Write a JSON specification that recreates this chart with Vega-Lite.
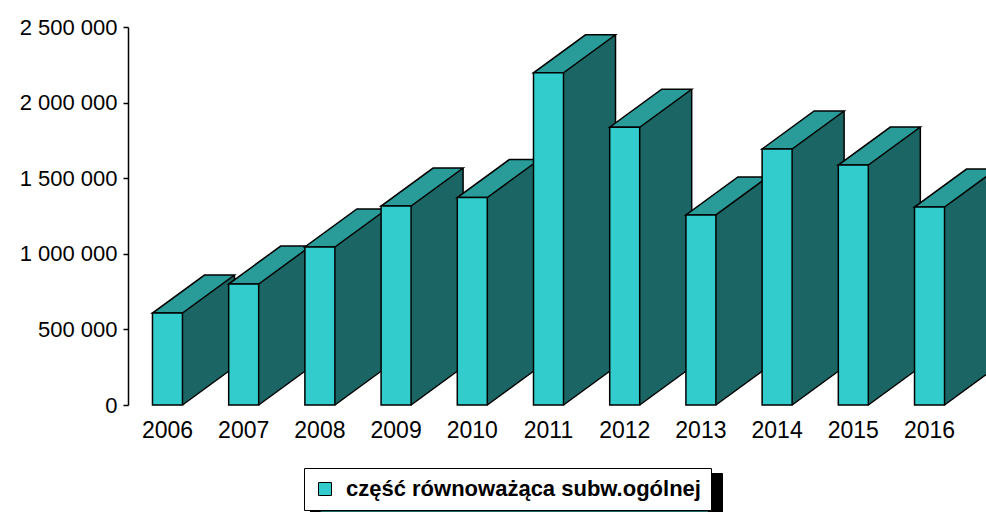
{
  "$schema": "https://vega.github.io/schema/vega-lite/v6.json",
  "width": 841,
  "height": 378,
  "autosize": "none",
  "padding": {"left": 128, "top": 27, "right": 17, "bottom": 107},
  "background": "white",
  "data": {
    "values": [
      {"year": "2006", "value": 608000, "series": "część równoważąca subw.ogólnej", "s2": "część równoważąca subw.ogólnej"},
      {"year": "2007", "value": 800000, "series": "część równoważąca subw.ogólnej", "s2": "część równoważąca subw.ogólnej"},
      {"year": "2008", "value": 1045000, "series": "część równoważąca subw.ogólnej", "s2": "część równoważąca subw.ogólnej"},
      {"year": "2009", "value": 1316000, "series": "część równoważąca subw.ogólnej", "s2": "część równoważąca subw.ogólnej"},
      {"year": "2010", "value": 1372000, "series": "część równoważąca subw.ogólnej", "s2": "część równoważąca subw.ogólnej"},
      {"year": "2011", "value": 2197000, "series": "część równoważąca subw.ogólnej", "s2": "część równoważąca subw.ogólnej"},
      {"year": "2012", "value": 1837000, "series": "część równoważąca subw.ogólnej", "s2": "część równoważąca subw.ogólnej"},
      {"year": "2013", "value": 1257000, "series": "część równoważąca subw.ogólnej", "s2": "część równoważąca subw.ogólnej"},
      {"year": "2014", "value": 1693000, "series": "część równoważąca subw.ogólnej", "s2": "część równoważąca subw.ogólnej"},
      {"year": "2015", "value": 1587000, "series": "część równoważąca subw.ogólnej", "s2": "część równoważąca subw.ogólnej"},
      {"year": "2016", "value": 1309000, "series": "część równoważąca subw.ogólnej", "s2": "część równoważąca subw.ogólnej"}
    ]
  },
  "encoding": {
    "x": {
      "field": "year",
      "type": "ordinal",
      "scale": {"paddingInner": 0, "paddingOuter": 0.018},
      "axis": {
        "title": null,
        "domain": false,
        "ticks": false,
        "labelAngle": 0,
        "labelFont": "Liberation Sans",
        "labelFontSize": 23,
        "labelColor": "black",
        "labelPadding": 14
      }
    },
    "y": {
      "field": "value",
      "type": "quantitative",
      "scale": {"domain": [0, 2500000], "nice": false},
      "axis": {
        "title": null,
        "values": [0, 500000, 1000000, 1500000, 2000000, 2500000],
        "labelExpr": "replace(format(datum.value, ','), regexp(',', 'g'), ' ')",
        "labelFont": "Liberation Sans",
        "labelFontSize": 22,
        "labelColor": "black",
        "labelPadding": 6,
        "domainColor": "black",
        "domainWidth": 1.5,
        "tickColor": "black",
        "tickWidth": 1.5,
        "tickSize": 5,
        "grid": false
      }
    }
  },
  "layer": [
    {
      "mark": {"type": "bar", "width": 52, "xOffset": 41, "y2Offset": -38, "fill": "#1b6665", "stroke": null},
      "encoding": {
        "y2": {"datum": 0},
        "opacity": {
          "field": "s2",
          "type": "nominal",
          "scale": {"range": [1, 1]},
          "legend": {
            "title": null,
            "orient": "none",
            "legendX": 182,
            "legendY": 446,
            "fillColor": "black",
            "strokeColor": "black",
            "padding": 10,
            "symbolType": "square",
            "symbolSize": 150000,
            "symbolFillColor": "black",
            "symbolStrokeColor": "black",
            "labelExpr": "''",
            "labelFontSize": 1,
            "labelOffset": 0,
            "zindex": 1
          }
        }
      }
    },
    {
      "mark": {"type": "point", "shape": "M 15 1 L 15 0 L 67 -38 L 67 1 Z", "size": 4, "filled": true, "fill": "#1b6665", "strokeWidth": 0, "opacity": 1}
    },
    {
      "mark": {"type": "point", "shape": "M 15 -39 L 15 0 L 67 -38 L 67 -39 Z", "size": 4, "filled": true, "fill": "#1b6665", "strokeWidth": 0, "opacity": 1},
      "encoding": {"y": {"datum": 0}}
    },
    {
      "mark": {"type": "rule", "xOffset": 67, "yOffset": -38, "y2Offset": -38, "stroke": "black", "strokeWidth": 1.5},
      "encoding": {"y2": {"datum": 0}}
    },
    {
      "mark": {"type": "point", "shape": "M 15 0 L 67 -38", "size": 4, "filled": false, "fill": null, "stroke": "black", "strokeWidth": 1.5, "opacity": 1},
      "encoding": {"y": {"datum": 0}}
    },
    {
      "mark": {"type": "point", "shape": "M -15 0 L 15 0 L 67 -38 L 37 -38 Z", "size": 4, "filled": true, "fill": "#299b98", "stroke": "black", "strokeWidth": 1.5, "opacity": 1}
    },
    {
      "mark": {"type": "bar", "width": 30, "stroke": "black", "strokeWidth": 1.5},
      "encoding": {
        "color": {
          "field": "series",
          "type": "nominal",
          "scale": {"range": ["#33cccc"]},
          "legend": {
            "title": null,
            "orient": "none",
            "legendX": 176,
            "legendY": 441,
            "fillColor": "white",
            "strokeColor": "black",
            "padding": 10,
            "symbolType": "square",
            "symbolSize": 169,
            "symbolFillColor": "#33cccc",
            "symbolStrokeColor": "black",
            "symbolStrokeWidth": 1,
            "labelFont": "Liberation Sans",
            "labelFontSize": 22,
            "labelFontWeight": "bold",
            "labelColor": "black",
            "labelOffset": 10,
            "labelLimit": 600,
            "zindex": 2
          }
        }
      }
    }
  ],
  "config": {"view": {"stroke": null}}
}
